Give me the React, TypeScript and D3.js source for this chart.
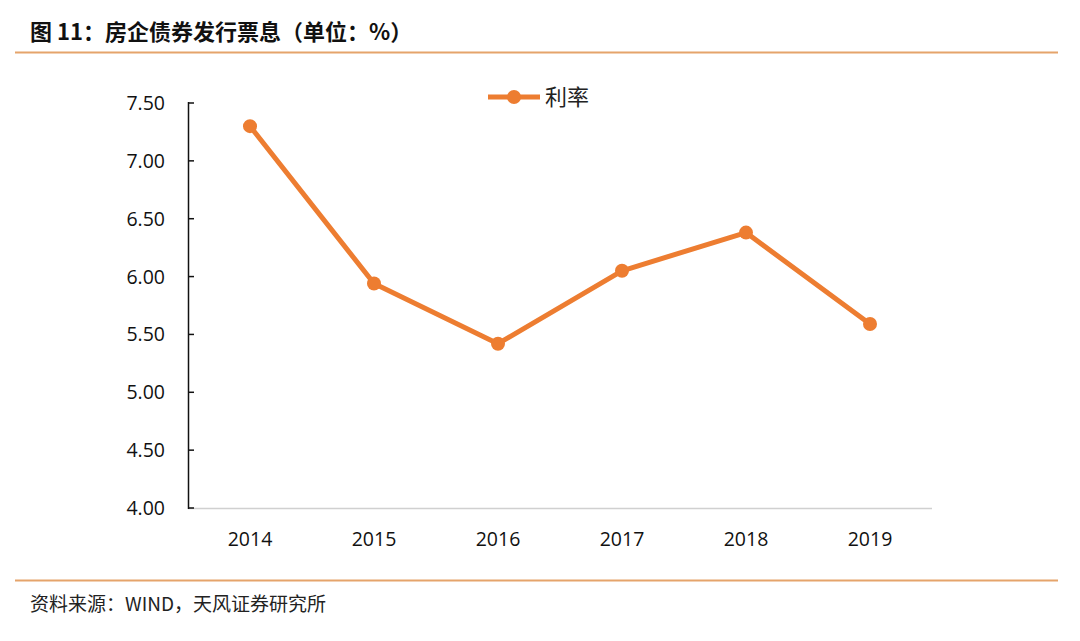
import React from "react";
import * as d3 from "d3";

const years = ["2014", "2015", "2016", "2017", "2018", "2019"];
const rates = [7.3, 5.94, 5.42, 6.05, 6.38, 5.59];
const yTicks = [4.0, 4.5, 5.0, 5.5, 6.0, 6.5, 7.0, 7.5];

const ORANGE = "#ED7D31";
const FONT = "'Open Sans', 'Noto Sans', sans-serif";
const CJK = "'Noto Sans CJK SC', sans-serif";

export default function App() {
  const W = 1080, H = 641;
  const x = d3.scaleBand().domain(years).range([188, 932]);
  const y = d3.scaleLinear().domain([4, 7.5]).range([508, 103]);
  const cx = (i: number) => (x(years[i]) as number) + x.bandwidth() / 2;
  const line = d3
    .line<number>()
    .x((_, i) => cx(i))
    .y((d) => y(d));

  return (
    <svg width={W} height={H} style={{ position: "absolute", left: 0, top: 0, background: "#fff" }}>
      <rect width={W} height={H} fill="#fff" />
      <text x={30} y={40} fontSize={22} fontWeight="bold" fontFamily={CJK} fill="#111">
        图 11：房企债券发行票息（单位：%）
      </text>
      <line x1={15} x2={1058} y1={52.5} y2={52.5} stroke="#E5A46B" strokeWidth={2} />

      {/* legend */}
      <line x1={488} x2={540} y1={97} y2={97} stroke={ORANGE} strokeWidth={5} />
      <circle cx={514} cy={97} r={7} fill={ORANGE} />
      <text x={545} y={105} fontSize={22} fontFamily={CJK} fill="#222">利率</text>

      {/* axes */}
      <line x1={188} x2={932} y1={508.5} y2={508.5} stroke="#D0D0D0" strokeWidth={1.5} />
      <line x1={188.5} x2={188.5} y1={102} y2={509} stroke="#111" strokeWidth={1.5} />
      {yTicks.map((t) => (
        <g key={t}>
          <line x1={188} x2={194} y1={y(t)} y2={y(t)} stroke="#111" strokeWidth={1.5} />
          <text x={165} y={y(t)} dy="0.36em" textAnchor="end" fontSize={19.5} fontFamily={FONT} fill="#111">
            {t.toFixed(2)}
          </text>
        </g>
      ))}
      {years.map((yr, i) => (
        <text key={yr} x={cx(i)} y={546} textAnchor="middle" fontSize={19.5} fontFamily={FONT} fill="#111">
          {yr}
        </text>
      ))}

      <path d={line(rates) || ""} fill="none" stroke={ORANGE} strokeWidth={5} strokeLinejoin="round" />
      {rates.map((r, i) => (
        <circle key={i} cx={cx(i)} cy={y(r)} r={7} fill={ORANGE} />
      ))}

      <line x1={15} x2={1058} y1={580.5} y2={580.5} stroke="#E5A46B" strokeWidth={2} />
      <text x={30} y={611} fontSize={19} fontFamily={CJK} fill="#222">
        资料来源：WIND，天风证券研究所
      </text>
    </svg>
  );
}
